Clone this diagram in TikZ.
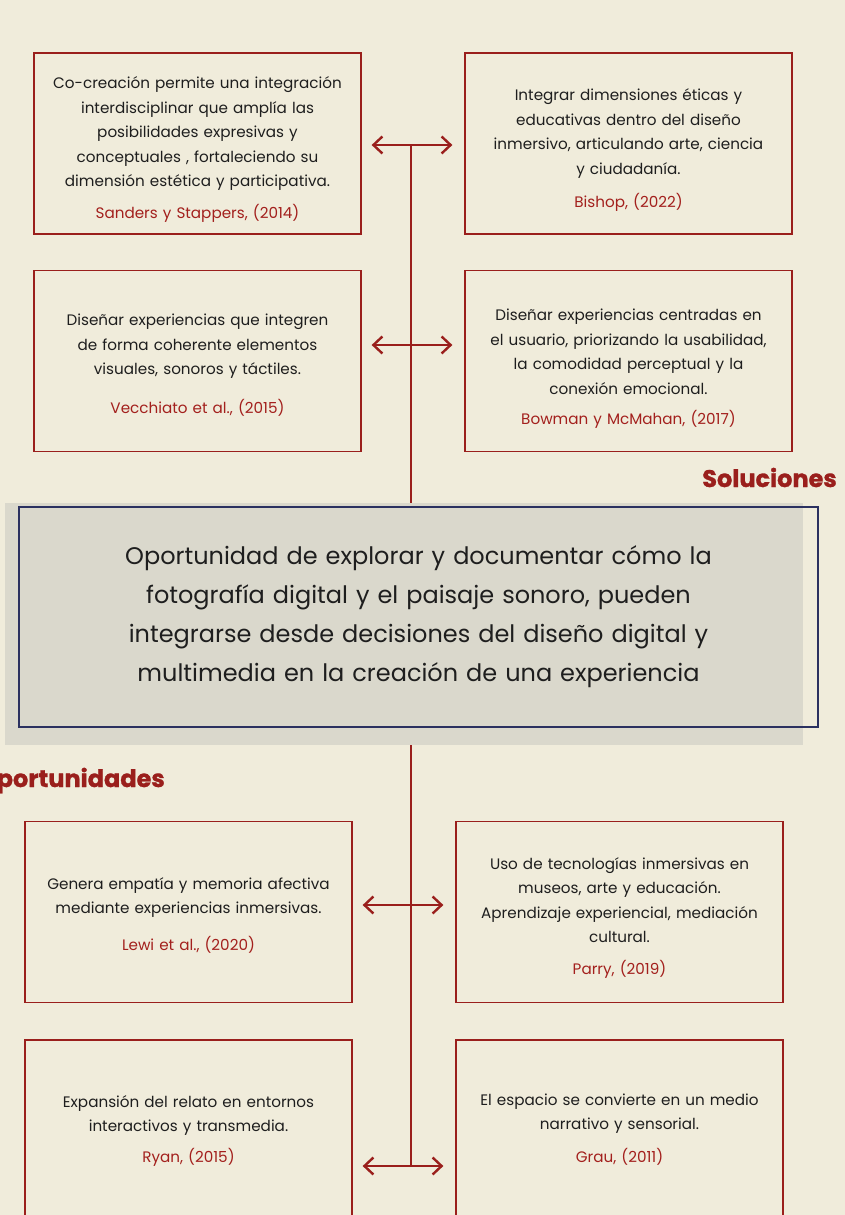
\documentclass[tikz,border=0pt]{standalone}
\usepackage{fontspec}
\setmainfont{Poppins}
\newfontfamily\headfont{Poppins}[BoldFeatures={FakeBold=1.2}]
\usetikzlibrary{arrows.meta}
\definecolor{paper}{HTML}{F0ECDB}
\definecolor{boxred}{HTML}{9A1F1C}
\definecolor{citered}{HTML}{A3201D}
\definecolor{ink}{HTML}{1E1E1E}
\definecolor{navy}{HTML}{2B3160}
\definecolor{haze}{HTML}{DAD8CC}
\begin{document}
\begin{tikzpicture}[
        x=1pt, y=-1pt,
        card/.style={draw=boxred, line width=1.3pt, minimum width=327pt, minimum height=181pt, inner sep=0pt},
        note/.style={inner sep=0pt, text width=325pt, align=center, text=ink,
            font=\fontsize{15.2}{24.5}\selectfont},
        core/.style={draw=navy, line width=1.1pt, minimum width=799pt, minimum height=220pt,
            inner sep=0pt, text width=790pt, align=center, text=ink,
            font=\fontsize{24}{39}\selectfont},
        head/.style={text=boxred, font=\fontsize{24}{30}\selectfont\headfont\bfseries, inner sep=0pt},
        link/.style={draw=boxred, line width=2.4pt,
            {Straight Barb[length=9pt,width=17pt]}-{Straight Barb[length=9pt,width=17pt]},
            shorten <=10pt, shorten >=12pt},
        spine/.style={draw=boxred, line width=2.4pt},
    ]
    \useasboundingbox[fill=paper] (0,0) rectangle (845,1215);

    \node[card](L1) at (197.5,143.5){};
    \node[card](R1) at (628.5,143.5){};
    \node[card](L2) at (197.5,361){};
    \node[card](R2) at (628.5,361){};
    \node[card](L3) at (188.5,912){};
    \node[card](R3) at (619.5,912){};
    \node[card](L4) at (188.5,1130.5){};
    \node[card](R4) at (619.5,1130.5){};

    \node[note](t1) at ([yshift=-6pt]L1.center){Co-creación permite una integración\\interdisciplinar que amplía las\\posibilidades expresivas y\\conceptuales , fortaleciendo su\\dimensión estética y participativa.\\[7pt]\textcolor{citered}{Sanders y Stappers, (2014)}};
    \node[note](t2) at ([yshift=-7pt]R1.center){Integrar dimensiones éticas y\\educativas dentro del diseño\\inmersivo, articulando arte, ciencia\\y ciudadanía.\\[9pt]\textcolor{citered}{Bishop, (2022)}};
    \node[note](t3) at ([yshift=-4pt]L2.center){Diseñar experiencias que integren\\de forma coherente elementos\\visuales, sonoros y táctiles.\\[14pt]\textcolor{citered}{Vecchiato et al., (2015)}};
    \node[note](t4) at ([yshift=-8pt]R2.center){Diseñar experiencias centradas en\\el usuario, priorizando la usabilidad,\\la comodidad perceptual y la\\conexión emocional.\\[6pt]\textcolor{citered}{Bowman y McMahan, (2017)}};
    \node[note](t5) at ([yshift=-3pt]L3.center){Genera empatía y memoria afectiva\\mediante experiencias inmersivas.\\[12pt]\textcolor{citered}{Lewi et al., (2020)}};
    \node[note](t6) at ([yshift=-6pt]R3.center){Uso de tecnologías inmersivas en\\museos, arte y educación.\\Aprendizaje experiencial, mediación\\cultural.\\[7pt]\textcolor{citered}{Parry, (2019)}};
    \node[note](t7) at (L4.center){Expansión del relato en entornos\\interactivos y transmedia.\\[6pt]\textcolor{citered}{Ryan, (2015)}};
    \node[note](t8) at ([yshift=1pt]R4.center){El espacio se convierte en un medio\\narrativo y sensorial.\\[8pt]\textcolor{citered}{Grau, (2011)}};

    \coordinate (gnw) at (5,503);
    \coordinate (gse) at (803,745);
    \fill[haze] (gnw) rectangle (gse);
    \node[core](mid) at (418.5,617){Oportunidad de explorar y documentar cómo la\\fotografía digital y el paisaje sonoro, pueden\\integrarse desde decisiones del diseño digital y\\multimedia en la creación de una experiencia};

    \node[head, anchor=base east](sol) at (837,487){Soluciones};
    \node[head, anchor=base east](opo) at (165,787){Oportunidades};

    \coordinate (a1) at (411,145);
    \coordinate (a2) at (411,345);
    \coordinate (a3) at (411,905);
    \coordinate (a4) at (411,1166);
    \draw[spine] (a1) -- (a1 |- gnw);
    \draw[spine] (a3 |- gse) -- (a4);
    \draw[link] (L1.east |- a1) -- (R1.west |- a1);
    \draw[link] (L2.east |- a2) -- (R2.west |- a2);
    \draw[link] (L3.east |- a3) -- (R3.west |- a3);
    \draw[link] (L4.east |- a4) -- (R4.west |- a4);
\end{tikzpicture}
\end{document}
